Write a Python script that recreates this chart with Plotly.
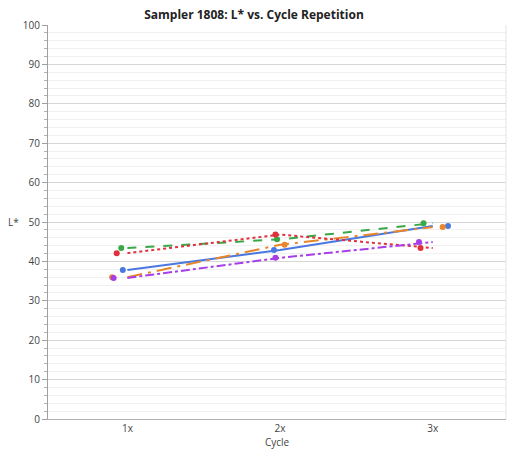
import plotly.graph_objects as go

# ---- data ----
cycles = ["1x", "2x", "3x"]
series_names = ["Blue", "Orange", "Green", "Red", "Purple"]
blue_vals = [37.8, 42.9, 49.0]
orange_vals = [36.0, 44.2, 48.7]
green_vals = [43.4, 45.6, 49.7]
red_vals = [42.1, 46.8, 43.4]
purple_vals = [35.8, 40.9, 44.9]
y_ticks = [0, 10, 20, 30, 40, 50, 60, 70, 80, 90, 100]

# ---- style ----
styles = {
    "Blue":   dict(color="#4a78e0", dash="solid", jitter=[-0.03, -0.04, 0.10]),
    "Orange": dict(color="#e8862a", dash="longdashdot", jitter=[-0.10, 0.03, 0.065]),
    "Green":  dict(color="#3aa846", dash="dash", jitter=[-0.04, -0.02, -0.06]),
    "Red":    dict(color="#e0303c", dash="dot", jitter=[-0.07, -0.03, -0.08]),
    "Purple": dict(color="#a83ee8", dash="dashdot", jitter=[-0.09, -0.03, -0.09]),
}
values = dict(zip(series_names, [blue_vals, orange_vals, green_vals, red_vals, purple_vals]))
idx = list(range(len(cycles)))

fig = go.Figure()
for name in series_names:
    st = styles[name]
    fig.add_trace(go.Scatter(x=idx, y=values[name], mode="lines",
                             line=dict(color=st["color"], dash=st["dash"], width=2),
                             showlegend=False, hoverinfo="skip"))
for name in series_names:
    st = styles[name]
    fig.add_trace(go.Scatter(x=[i + j for i, j in zip(idx, st["jitter"])], y=values[name],
                             mode="markers", marker=dict(color=st["color"], size=6),
                             showlegend=False, name=name))

fig.update_layout(
    width=508, height=451,
    margin=dict(l=48, r=2, t=25, b=32),
    paper_bgcolor="white", plot_bgcolor="white",
    font=dict(family="Open Sans", size=10, color="#444"),
    title=dict(text="<b>Sampler 1808: L* vs. Cycle Repetition</b>", x=0.5, xref="container",
               xanchor="center", y=0.967, yanchor="middle",
               font=dict(family="Open Sans", size=12, color="#222")),
    xaxis=dict(range=[-0.52, 2.48], tickvals=idx, ticktext=cycles, showgrid=False,
               zeroline=False, showline=True, linecolor="#b0b0b0", ticks="",
               title=dict(text="Cycle", font=dict(size=10, color="#444"), standoff=2),
               mirror=False),
    yaxis=dict(range=[0, 100], tickvals=y_ticks, showgrid=True, gridcolor="#d6d6d6",
               gridwidth=1, zeroline=False, showline=True, linecolor="#a0a0a0",
               ticks="outside", ticklen=5, tickcolor="#a0a0a0",
               minor=dict(dtick=2, showgrid=True, gridcolor="#f0f0f0", ticks="outside",
                          ticklen=3, tickcolor="#b0b0b0")),
    annotations=[dict(text="L*", xref="paper", yref="paper", x=-0.075, y=0.5,
                      xanchor="center", yanchor="middle", showarrow=False,
                      font=dict(size=10, color="#444"))],
    shapes=[dict(type="line", xref="paper", yref="paper", x0=1, x1=1, y0=0, y1=1,
                 line=dict(color="#e4e4e4", width=1))],
)
fig.write_html("out.html", config={"displayModeBar": False},
               post_script="document.body.style.margin='0';document.body.style.overflow='hidden';")
